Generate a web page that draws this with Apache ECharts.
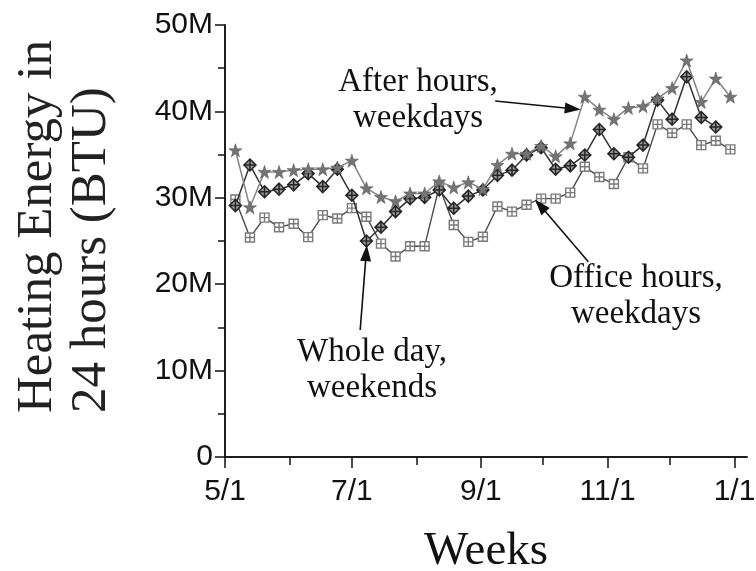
<!DOCTYPE html>
<html><head><meta charset="utf-8">
<script src="https://cdn.jsdelivr.net/npm/echarts@6/dist/echarts.min.js"></script>
<style>html,body{margin:0;padding:0;background:#fff}#c{width:756px;height:571px}</style>
</head><body><div id="c"></div>
<script>
// ---- data ----
const weekDates = ['5/6','5/13','5/20','5/27','6/3','6/10','6/17','6/24','7/1','7/8','7/15','7/22','7/29',
  '8/5','8/12','8/19','8/26','9/2','9/9','9/16','9/23','9/30','10/7','10/14','10/21','10/28',
  '11/4','11/11','11/18','11/25','12/2','12/9','12/16','12/23','12/30'];
// values in millions of BTU
const afterHoursWeekdays = [35.5,28.9,33.0,33.0,33.2,33.3,33.3,33.5,34.3,31.1,30.1,29.6,30.5,30.5,31.9,31.2,31.8,31.0,
  33.8,35.1,35.1,36.0,34.8,36.3,41.7,40.2,39.1,40.4,40.6,41.5,42.7,45.9,41.1,43.8,41.7];
const wholeDayWeekends = [29.1,33.8,30.7,31.0,31.5,32.8,31.3,33.3,30.3,25.0,26.6,28.4,29.9,30.05,30.9,28.8,30.2,30.9,
  32.6,33.2,34.95,35.8,33.3,33.7,34.95,37.9,35.1,34.7,36.1,41.3,39.1,44.0,39.3,38.2];
const officeHoursWeekdays = [29.8,25.4,27.7,26.6,27.0,25.45,28.0,27.6,28.8,27.8,24.7,23.2,24.4,24.4,31.3,26.85,24.9,25.5,
  29.0,28.4,29.2,29.9,29.9,30.6,33.6,32.4,31.6,34.7,33.4,38.5,37.5,38.5,36.1,36.6,35.6];
const xTickLabels = ['5/1','7/1','9/1','11/1','1/1'];
const xMinorTicks = ['6/1','8/1','10/1','12/1'];
const yTicks = [0,10,20,30,40,50];
const yMinorTicks = [5,15,25,35,45];
const xEnd = '1/7';

// ---- helpers ----
const monthStart = {5:0,6:31,7:61,8:92,9:123,10:153,11:184,12:214,1:245};
const toDay = s => { const p = s.split('/').map(Number); return monthStart[p[0]] + p[1] - 1; };
const pairs = vals => vals.map((v,i) => [toDay(weekDates[i]), v]);
const labelMap = {}; xTickLabels.forEach(l => labelMap[toDay(l)] = l);
const allMonthTicks = xTickLabels.concat(xMinorTicks).map(toDay);

const serif = '"Liberation Serif","Times New Roman",serif';
const sans = '"Liberation Sans",Arial,sans-serif';
const starPath = 'path://M50,0 L61.8,35.1 L97.6,34.5 L69,56.1 L79.4,90.5 L50,70 L20.6,90.5 L31,56.1 L2.4,34.5 L38.2,35.1 Z';
const diamondPath = 'path://M50,0 L100,50 L50,100 L0,50 Z M50,0 L50,100 M0,50 L100,50';
const squarePath = 'path://M0,0 L100,0 L100,100 L0,100 Z M50,0 L50,100 M0,50 L100,50';

const axisLine = {show:true, lineStyle:{color:'#111', width:1.5}};
const xBase = {type:'value', min:0, max:toDay(xEnd), splitLine:{show:false}};
const yBase = {type:'value', min:0, max:50, interval:10, splitLine:{show:false}};

const chart = echarts.init(document.getElementById('c'));
chart.setOption({
  animation:false,
  backgroundColor:'#fff',
  grid:{left:225, right:9, top:25, bottom:114, containLabel:false, outerBoundsMode:'none'},
  xAxis:[
    Object.assign({}, xBase, {position:'bottom', axisLine,
      axisTick:{show:true, inside:false, length:11, customValues:xTickLabels.map(toDay), lineStyle:{color:'#111', width:1.5}},
      axisLabel:{show:true, customValues:xTickLabels.map(toDay), formatter:v => labelMap[v] || '', margin:20,
        fontFamily:sans, fontSize:30, color:'#111'},
      name:'Weeks', nameLocation:'middle', nameGap:71,
      nameTextStyle:{fontFamily:serif, fontSize:47, color:'#111'}}),
    Object.assign({}, xBase, {position:'bottom', axisLine:{show:false},
      axisTick:{show:true, inside:false, length:6, customValues:xMinorTicks.map(toDay), lineStyle:{color:'#111', width:1.5}},
      axisLabel:{show:false}}),
    Object.assign({}, xBase, {position:'top', axisLine,
      axisTick:{show:true, inside:true, length:8, customValues:allMonthTicks, lineStyle:{color:'#111', width:1.5}},
      axisLabel:{show:false}})
  ],
  yAxis:[
    Object.assign({}, yBase, {position:'left', axisLine,
      axisTick:{show:true, inside:false, length:10, lineStyle:{color:'#111', width:1.5}},
      axisLabel:{show:true, margin:12, fontFamily:sans, fontSize:30, color:'#111',
        formatter:v => v === 0 ? '0' : v + 'M'}}),
    Object.assign({}, yBase, {position:'left', axisLine:{show:false},
      axisTick:{show:true, inside:false, length:6, customValues:yMinorTicks, lineStyle:{color:'#111', width:1.5}},
      axisLabel:{show:false}}),
    Object.assign({}, yBase, {position:'right', axisLine,
      axisTick:{show:true, inside:true, length:7, customValues:yTicks.concat(yMinorTicks), lineStyle:{color:'#111', width:1.5}},
      axisLabel:{show:false}})
  ],
  series:[
    {name:'Office hours, weekdays', type:'line', data:pairs(officeHoursWeekdays), symbol:squarePath, symbolSize:9,
      showSymbol:true, lineStyle:{color:'#4a4a4a', width:1.4},
      itemStyle:{color:'#ffffff', borderColor:'#7a7a7a', borderWidth:1.4}, z:2,
      markLine:{silent:true, symbol:['none','triangle'], symbolSize:[11,16], label:{show:false},
        lineStyle:{color:'#111', width:1.6, type:'solid'},
        data:[[{coord:[174.7,22.6]},{coord:[151.6,29.1]}]]}},
    {name:'Whole day, weekends', type:'line', data:pairs(wholeDayWeekends), symbol:diamondPath, symbolSize:12,
      showSymbol:true, lineStyle:{color:'#333', width:1.5},
      itemStyle:{color:'#9a9a9a', borderColor:'#262626', borderWidth:1.5}, z:3,
      markLine:{silent:true, symbol:['none','triangle'], symbolSize:[11,16], label:{show:false},
        lineStyle:{color:'#111', width:1.6, type:'solid'},
        data:[[{coord:[65,14.7]},{coord:[67.9,23.6]}]]}},
    {name:'After hours, weekdays', type:'line', data:pairs(afterHoursWeekdays), symbol:starPath, symbolSize:13,
      showSymbol:true, lineStyle:{color:'#858585', width:1.5},
      itemStyle:{color:'#747474', borderColor:'#5a5a5a', borderWidth:0.6}, z:4,
      markLine:{silent:true, symbol:['none','triangle'], symbolSize:[11,16], label:{show:false},
        lineStyle:{color:'#111', width:1.6, type:'solid'},
        data:[[{coord:[129.9,41.2]},{coord:[167.2,40.3]}]]}}
  ],
  graphic:[
    {type:'text', rotation:Math.PI/2, x:65, y:413,
      style:{text:'Heating Energy in\n24 hours (BTU)', font:'51px '+serif, fill:'#222',
        textAlign:'left', textVerticalAlign:'middle', lineHeight:54}},
    {type:'text', x:418, y:100, style:{text:'After hours,\nweekdays', font:'33px '+serif, fill:'#111',
      textAlign:'center', textVerticalAlign:'middle', lineHeight:36}},
    {type:'text', x:372, y:370, style:{text:'Whole day,\nweekends', font:'33px '+serif, fill:'#111',
      textAlign:'center', textVerticalAlign:'middle', lineHeight:36}},
    {type:'text', x:636, y:296, style:{text:'Office hours,\nweekdays', font:'33px '+serif, fill:'#111',
      textAlign:'center', textVerticalAlign:'middle', lineHeight:36}}
  ]
});
</script></body></html>
